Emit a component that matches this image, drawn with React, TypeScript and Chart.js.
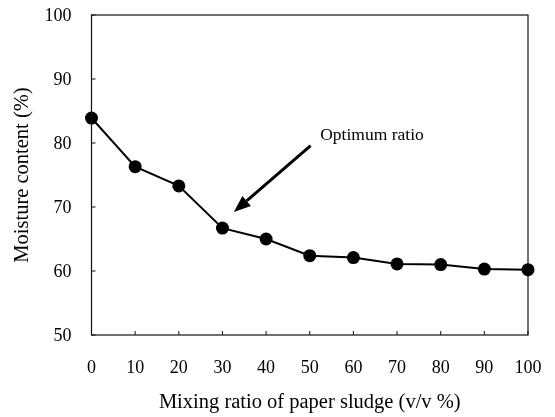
import React, { useEffect, useRef } from "react";
import { Chart, registerables } from "chart.js";

Chart.register(...registerables);

const mixingRatios = [0, 10, 20, 30, 40, 50, 60, 70, 80, 90, 100];
const moistureContent = [83.9, 76.3, 73.3, 66.7, 65.0, 62.4, 62.1, 61.1, 61.0, 60.3, 60.2];
const xTicks = [0, 10, 20, 30, 40, 50, 60, 70, 80, 90, 100];
const yTicks = [50, 60, 70, 80, 90, 100];
const annotationText = "Optimum ratio";
const arrowFrom = { x: 50.2, y: 79.6 };
const arrowTo = { x: 32.6, y: 69.2 };
const annotationPos = { x: 52.4, y: 81.2 };

const FONT = "'Liberation Serif', 'Times New Roman', serif";

const framePlugin = {
  id: "frame",
  afterDatasetsDraw(chart: any) {
    const { ctx, chartArea, scales } = chart;
    const xs = scales.x;
    const ys = scales.y;
    ctx.save();
    ctx.strokeStyle = "#111";
    ctx.lineWidth = 1.2;
    ctx.strokeRect(chartArea.left, chartArea.top, chartArea.right - chartArea.left, chartArea.bottom - chartArea.top);
    ctx.lineWidth = 1;
    xTicks.forEach((v) => {
      const px = xs.getPixelForValue(v);
      ctx.beginPath();
      ctx.moveTo(px, chartArea.bottom);
      ctx.lineTo(px, chartArea.bottom - 4);
      ctx.stroke();
    });
    yTicks.forEach((v) => {
      const py = ys.getPixelForValue(v);
      ctx.beginPath();
      ctx.moveTo(chartArea.left, py);
      ctx.lineTo(chartArea.left + 4, py);
      ctx.stroke();
    });
    const x1 = xs.getPixelForValue(arrowFrom.x);
    const y1 = ys.getPixelForValue(arrowFrom.y);
    const x2 = xs.getPixelForValue(arrowTo.x);
    const y2 = ys.getPixelForValue(arrowTo.y);
    const ang = Math.atan2(y2 - y1, x2 - x1);
    const headLen = 17;
    const headHalf = 6.5;
    const bx = x2 - headLen * Math.cos(ang);
    const by = y2 - headLen * Math.sin(ang);
    ctx.strokeStyle = "#000";
    ctx.lineWidth = 3;
    ctx.beginPath();
    ctx.moveTo(x1, y1);
    ctx.lineTo(bx, by);
    ctx.stroke();
    ctx.fillStyle = "#000";
    ctx.beginPath();
    ctx.moveTo(x2, y2);
    ctx.lineTo(bx + headHalf * Math.sin(ang), by - headHalf * Math.cos(ang));
    ctx.lineTo(bx - headHalf * Math.sin(ang), by + headHalf * Math.cos(ang));
    ctx.closePath();
    ctx.fill();
    ctx.font = `17.5px ${FONT}`;
    ctx.textAlign = "left";
    ctx.textBaseline = "middle";
    ctx.fillText(annotationText, xs.getPixelForValue(annotationPos.x), ys.getPixelForValue(annotationPos.y));
    ctx.restore();
  },
};

const zeroPad = (scale: any) => {
  scale.paddingTop = 0;
  scale.paddingBottom = 0;
  scale.paddingLeft = 0;
  scale.paddingRight = 0;
};

export default function App() {
  const canvasRef = useRef<HTMLCanvasElement | null>(null);

  useEffect(() => {
    document.body.style.margin = "0";
    const canvas = canvasRef.current;
    if (!canvas) return;
    const chart = new Chart(canvas, {
      type: "line",
      data: {
        datasets: [
          {
            data: mixingRatios.map((x, i) => ({ x, y: moistureContent[i] })),
            borderColor: "#000",
            backgroundColor: "#000",
            borderWidth: 2,
            pointRadius: 6.5,
            pointBackgroundColor: "#000",
            pointBorderColor: "#000",
            pointBorderWidth: 0,
            tension: 0,
            clip: false as any,
          },
        ],
      },
      options: {
        animation: false,
        responsive: false,
        devicePixelRatio: 1,
        layout: { padding: { left: 0, top: 15, right: 27, bottom: 0 } },
        plugins: {
          legend: { display: false },
          tooltip: { enabled: false },
        },
        scales: {
          x: {
            type: "linear",
            min: 0,
            max: 100,
            afterBuildTicks: (scale: any) => {
              scale.ticks = xTicks.map((v) => ({ value: v }));
            },
            afterFit: (scale: any) => {
              scale.height = 82;
              zeroPad(scale);
            },
            grid: { display: false, drawTicks: false },
            border: { display: false },
            ticks: {
              color: "#000",
              font: { family: FONT, size: 18 },
              padding: 22.5,
              maxRotation: 0,
              autoSkip: false,
            },
            title: {
              display: true,
              text: "Mixing ratio of paper sludge (v/v %)",
              color: "#000",
              font: { family: FONT, size: 20.5 },
              padding: { top: 0, bottom: 2 },
            },
          },
          y: {
            type: "linear",
            min: 50,
            max: 100,
            afterBuildTicks: (scale: any) => {
              scale.ticks = yTicks.map((v) => ({ value: v }));
            },
            afterFit: (scale: any) => {
              scale.width = 91.5;
              zeroPad(scale);
            },
            grid: { display: false, drawTicks: false },
            border: { display: false },
            ticks: {
              color: "#000",
              font: { family: FONT, size: 18 },
              padding: 20,
              labelOffset: 1.5,
            },
            title: {
              display: true,
              text: "Moisture content (%)",
              color: "#000",
              font: { family: FONT, size: 20.5 },
              padding: { top: 10.5, bottom: 0 },
            },
          },
        },
      },
      plugins: [framePlugin],
    });
    return () => chart.destroy();
  }, []);

  return (
    <div style={{ width: 555, height: 417, background: "#fff" }}>
      <canvas ref={canvasRef} width={555} height={417} style={{ display: "block" }} />
    </div>
  );
}
